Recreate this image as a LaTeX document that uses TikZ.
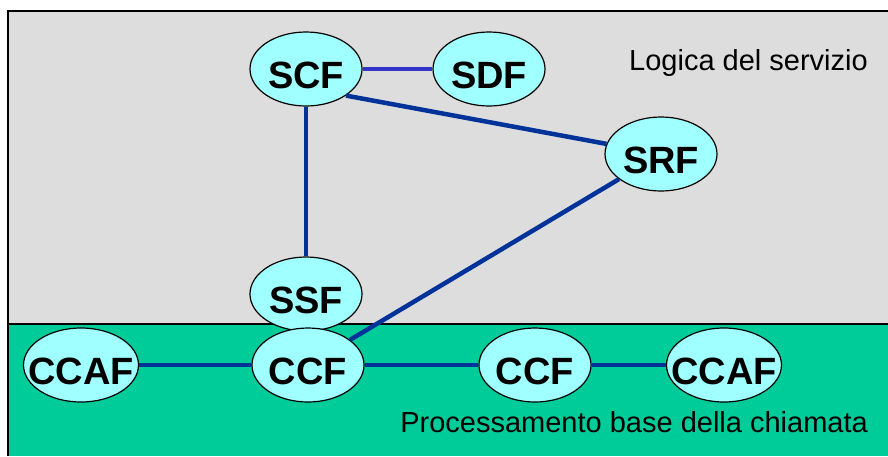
\documentclass[tikz,border=0pt]{standalone}
\usepackage{fontspec}
\setmainfont{Liberation Sans}
\usepackage{xcolor}
\usepackage{tikz}
\usetikzlibrary{shapes.geometric}
\definecolor{logicgray}{HTML}{DDDDDD}
\definecolor{basegreen}{HTML}{00CC99}
\definecolor{funcfill}{HTML}{A0FFFF}
\definecolor{linkblue}{HTML}{003399}
\definecolor{linklight}{HTML}{3333CC}
\newcommand{\fname}[1]{\makebox[0pt]{#1}}

\begin{document}
\begin{tikzpicture}[x=1pt, y=-1pt,
  func/.style={draw, line width=1.2pt, ellipse, fill=funcfill, minimum width=112pt, minimum height=74pt, inner sep=0pt, text height=38pt, text depth=0pt, font=\fontsize{38}{41}\selectfont\bfseries},
  link/.style={line width=4.5pt, draw=linkblue},
  area/.style={font=\fontsize{29}{32}\selectfont, anchor=base east, inner sep=0pt}
]
\useasboundingbox (0,0) rectangle (888,456);
\fill[logicgray] (8,11) rectangle (888,324);
\fill[basegreen] (8,324) rectangle (888,456);
\draw[line width=1.5pt] (8,456) -- (8,11) -- (888,11);
\draw[line width=1.5pt] (8,324) -- (888,324);
\node[func] (scf) at (306,69) {\fname{SCF}};
\node[func] (sdf) at (489,69) {\fname{SDF}};
\node[func] (srf) at (661,154) {\fname{SRF}};
\node[func] (ssf) at (306,294) {\fname{SSF}};
\node[func] (ccfa) at (308,365) {\fname{CCF}};
\node[func] (ccfb) at (535,365) {\fname{CCF}};
\node[func, minimum width=115pt] (ccafa) at (81,365) {\fname{CCAF}};
\node[func, minimum width=115pt] (ccafb) at (724,365) {\fname{CCAF}};
\draw[link, draw=linklight] (scf) -- (sdf);
\draw[link] (scf.south east) -- (srf);
\draw[link] (scf) -- (ssf);
\draw[link] (srf) -- (ccfa);
\draw[link] (ccafa) -- (ccfa);
\draw[link] (ccfa) -- (ccfb);
\draw[link] (ccfb) -- (ccafb);
\node[area] (logic) at (868,70) {Logica del servizio};
\node[area] (basic) at (868,432) {Processamento base della chiamata};
\end{tikzpicture}
\end{document}
